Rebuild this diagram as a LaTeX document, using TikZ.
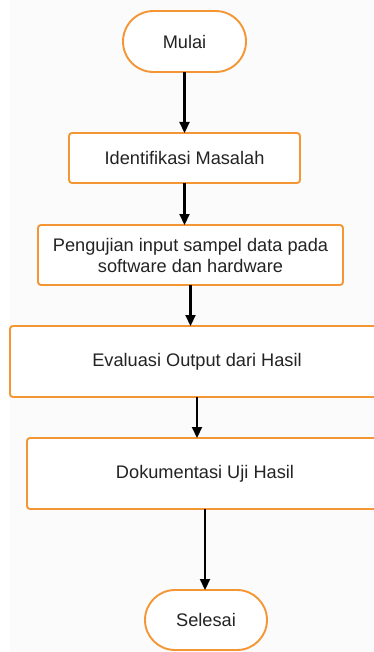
\documentclass[tikz,border=0pt]{standalone}
\usepackage{fontspec}
\setmainfont{Liberation Sans}
\usetikzlibrary{arrows.meta,shapes.misc}
\definecolor{flowor}{RGB}{245,150,52}
\definecolor{flowtxt}{RGB}{35,35,35}
\tikzset{
  x=1pt,y=-1pt,
  base/.style={draw=flowor,line width=1.9pt,fill=white,text=flowtxt,
    font=\fontsize{18.2}{21}\selectfont,align=center,inner sep=0pt,outer sep=0pt},
  termbox/.style={base,rounded rectangle},
  procbox/.style={base,rectangle,rounded corners=3pt},
  flowarrow/.style={draw=black,line width=2.2pt,-{Triangle[width=10pt,length=11pt]}}
}
\begin{document}
\begin{tikzpicture}
\useasboundingbox (0,0) rectangle (374,652);
\clip (0,0) rectangle (374,652);
\fill[white] (0,0) rectangle (374,652);
\fill[black!1.5] (10,0) rectangle (374,652);
\node[termbox,minimum width=123pt,minimum height=61pt] (start) at (184.5,41.5) {Mulai};
\node[procbox,minimum width=231pt,minimum height=50pt] (ident) at (184.5,158) {Identifikasi Masalah};
\node[procbox,minimum width=305pt,minimum height=60pt] (uji) at (190.5,255) {Pengujian input sampel data pada\\software dan hardware};
\node[procbox,minimum width=374pt,minimum height=71pt] (eval) at (197,361.5) {Evaluasi Output dari Hasil};
\node[procbox,minimum width=356pt,minimum height=71pt] (dok) at (205,473.5) {Dokumentasi Uji Hasil};
\node[termbox,minimum width=122pt,minimum height=60pt] (end) at (206,620) {Selesai};
\draw[flowarrow] (start.south) -- (start.south |- ident.north);
\draw[flowarrow] (ident.south) -- (ident.south |- uji.north);
\draw[flowarrow] (uji.south) -- (uji.south |- eval.north);
\draw[flowarrow] (eval.south) -- (eval.south |- dok.north);
\draw[flowarrow] (dok.south) -- (dok.south |- end.north);
\end{tikzpicture}
\end{document}
